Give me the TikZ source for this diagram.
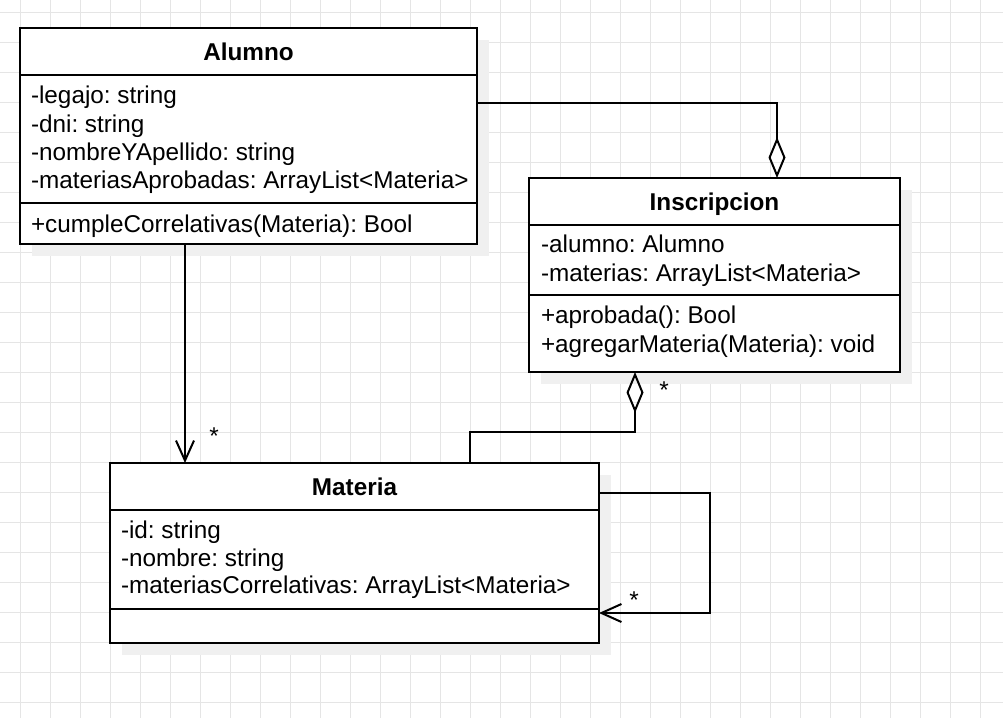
\documentclass[tikz,border=0pt]{standalone}
\usepackage{fontspec}
\setmainfont{Liberation Sans}
\usetikzlibrary{arrows.meta}
\usetikzlibrary{shadows}
\frenchspacing

\begin{document}
\begin{tikzpicture}[x=1pt,y=-1pt,line width=2pt,font=\fontsize{24.3pt}{28pt}\selectfont]
		\tikzstyle{gridline}=[draw=black!10,line width=1pt]
		\tikzstyle{classbox}=[rectangle,draw=black,fill=white,inner sep=0pt,outer sep=0pt,drop shadow={shadow xshift=12pt,shadow yshift=-12pt,fill=black!6,opacity=1}]
		\tikzstyle{title}=[anchor=base,inner sep=0pt,font=\fontsize{24.3pt}{28pt}\selectfont\bfseries]
		\tikzstyle{member}=[anchor=base west,inner sep=0pt]
		\tikzstyle{mult}=[inner sep=0pt]
		\tikzstyle{assoc}=[-{Straight Barb[length=20pt,width=18pt]}]
		\tikzstyle{aggr}=[-{Diamond[open,length=41pt,width=17pt]}]
		
		% Background and grid
		\fill[white] (0,0) rectangle (1003,718);
		\useasboundingbox (0,0) rectangle (1003,718);
		\foreach \x in {20,50,...,980}
		\draw[gridline] (\x,0) -- (\x,718);
		\foreach \y in {12.5,42.5,...,702.5}
		\draw[gridline] (0,\y) -- (1003,\y);
		
		% Draw the class boxes
		\node[classbox,minimum width=457pt,minimum height=216pt] (alumno) at (248.5,136) {};
		\node[classbox,minimum width=371pt,minimum height=194pt] (inscripcion) at (714.5,275) {};
		\node[classbox,minimum width=489pt,minimum height=180pt] (materia) at (354.5,553) {};
		
		% Compartment lines
		\foreach \y in {75,203}
		\draw (alumno.west |- 0,\y) -- (alumno.east |- 0,\y);
		\foreach \y in {225,295}
		\draw (inscripcion.west |- 0,\y) -- (inscripcion.east |- 0,\y);
		\foreach \y in {510,609}
		\draw (materia.west |- 0,\y) -- (materia.east |- 0,\y);
		
		% Class names
		\node[title] (alumno-t) at (alumno.north |- 0,60) {Alumno};
		\node[title] (inscripcion-t) at (inscripcion.north |- 0,210) {Inscripcion};
		\node[title] (materia-t) at (materia.north |- 0,495) {Materia};
		
		% Alumno members
		\foreach \name / \y / \txt in {1/103/{-legajo: string},2/132/{-dni: string},3/160/{-nombreYApellido: string},4/188/{-materiasAprobadas: ArrayList<Materia>}}
		\node[member] (alumno-a\name) at (30,\y) {\txt};
		\node[member] (alumno-m1) at (30,232) {+cumpleCorrelativas(Materia): Bool};
		
		% Inscripcion members
		\foreach \name / \y / \txt in {1/252/{-alumno: Alumno},2/281/{-materias: ArrayList<Materia>}}
		\node[member] (inscripcion-a\name) at (540,\y) {\txt};
		\foreach \name / \y / \txt in {1/323/{+aprobada(): Bool},2/352/{+agregarMateria(Materia): void}}
		\node[member] (inscripcion-m\name) at (540,\y) {\txt};
		
		% Materia members
		\foreach \name / \y / \txt in {1/538/{-id: string},2/566/{-nombre: string},3/593/{-materiasCorrelativas: ArrayList<Materia>}}
		\node[member] (materia-a\name) at (120,\y) {\txt};
		
		% Connect classes
		\draw[aggr] (alumno.east |- 0,103) -| (inscripcion.north -| 777,0);
		\draw[assoc] (alumno.south -| 185,0) -- (materia.north -| 185,0);
		\draw[aggr] (materia.north -| 470,0) -- ++(0,-31) -| (inscripcion.south -| 635,0);
		\draw[assoc] (materia.east |- 0,493) -- ++(111,0) |- (materia.east |- 0,613);
		
		% Multiplicities
		\node[mult] (m-1) at (214,436) {*};
		\node[mult] (m-2) at (664,390) {*};
		\node[mult] (m-3) at (634,600) {*};
		
	\end{tikzpicture}
\end{document}
